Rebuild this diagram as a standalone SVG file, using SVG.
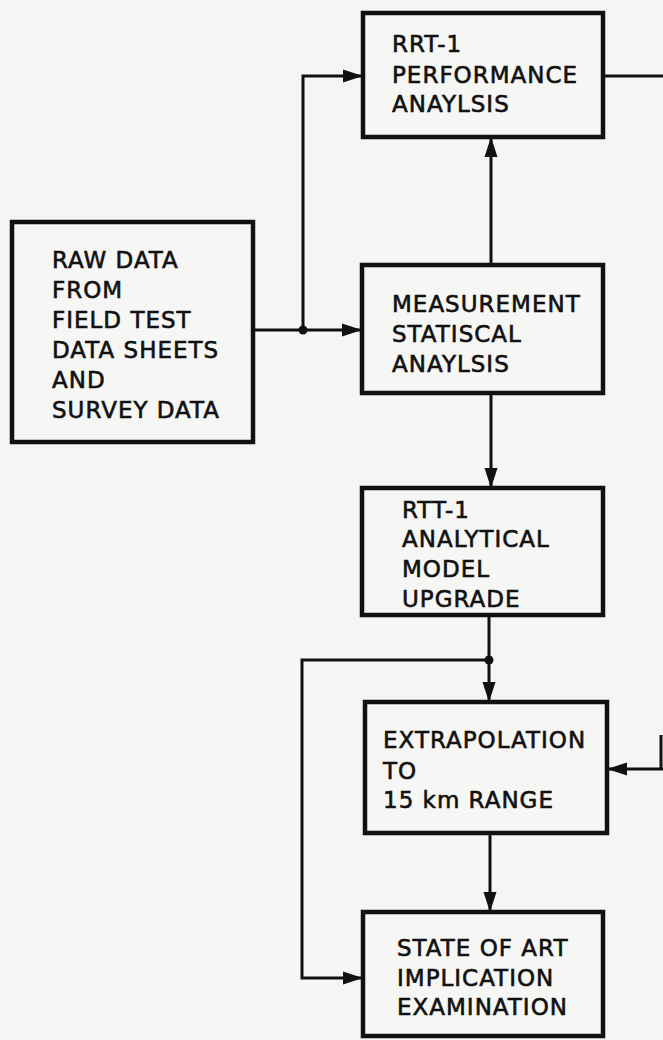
<svg xmlns="http://www.w3.org/2000/svg" width="663" height="1040" viewBox="0 0 663 1040">
<style>
.box{fill:#f6f6f5;stroke:#111;stroke-width:4.5}
.t{font-family:"DejaVu Sans",sans-serif;font-size:23px;fill:#111;stroke:#111;stroke-width:0.6;letter-spacing:1px}
.c{fill:none;stroke:#111;stroke-width:3}
</style>
<defs>
<marker id="ah" markerUnits="userSpaceOnUse" markerWidth="20" markerHeight="16" refX="19" refY="8" orient="auto">
<path d="M0,1.5 L20,8 L0,14.5 Z" fill="#111"/>
</marker>
</defs>
<rect width="663" height="1040" fill="#f5f5f4"/>
<g id="connectors">
<path class="c" d="M603,76 L663,76"/>
<path class="c" d="M661,735 L661,769"/>
<path class="c" d="M663,769 L608,769" marker-end="url(#ah)"/>
<path class="c" d="M253,330 L361,330" marker-end="url(#ah)"/>
<path class="c" d="M303,330 L303,76 L362,76" marker-end="url(#ah)"/>
<circle cx="303" cy="330" r="4.5" fill="#111"/>
<path class="c" d="M491,265 L491,138" marker-end="url(#ah)"/>
<path class="c" d="M491,393 L491,487" marker-end="url(#ah)"/>
<path class="c" d="M489,615 L489,701" marker-end="url(#ah)"/>
<circle cx="489" cy="660" r="4.5" fill="#111"/>
<path class="c" d="M489,660 L302,660 L302,978 L362,978" marker-end="url(#ah)"/>
<path class="c" d="M490,833 L490,911" marker-end="url(#ah)"/>
</g>
<g id="rrt1">
<rect class="box" x="363" y="13" width="240" height="124"/>
<text class="t" x="392" y="52">RRT-1</text>
<text class="t" x="392" y="83">PERFORMANCE</text>
<text class="t" x="392" y="112">ANAYLSIS</text>
</g>
<g id="rawdata">
<rect class="box" x="12" y="222" width="241" height="220"/>
<text class="t" x="52" y="268">RAW DATA</text>
<text class="t" x="52" y="298">FROM</text>
<text class="t" x="52" y="328">FIELD TEST</text>
<text class="t" x="52" y="358">DATA SHEETS</text>
<text class="t" x="52" y="388">AND</text>
<text class="t" x="52" y="418">SURVEY DATA</text>
</g>
<g id="measurement">
<rect class="box" x="362" y="265" width="241" height="128"/>
<text class="t" x="392" y="312">MEASUREMENT</text>
<text class="t" x="392" y="342">STATISCAL</text>
<text class="t" x="392" y="372">ANAYLSIS</text>
</g>
<g id="rtt1">
<rect class="box" x="362" y="488" width="241" height="127"/>
<text class="t" x="402" y="518">RTT-1</text>
<text class="t" x="402" y="547">ANALYTICAL</text>
<text class="t" x="402" y="577">MODEL</text>
<text class="t" x="402" y="607">UPGRADE</text>
</g>
<g id="extrapolation">
<rect class="box" x="365" y="702" width="242" height="131"/>
<text class="t" x="383" y="748">EXTRAPOLATION</text>
<text class="t" x="383" y="779">TO</text>
<text class="t" x="383" y="808">15 km RANGE</text>
</g>
<g id="stateofart">
<rect class="box" x="363" y="912" width="240" height="124"/>
<text class="t" x="397" y="956">STATE OF ART</text>
<text class="t" x="397" y="986">IMPLICATION</text>
<text class="t" x="397" y="1015">EXAMINATION</text>
</g>
</svg>
